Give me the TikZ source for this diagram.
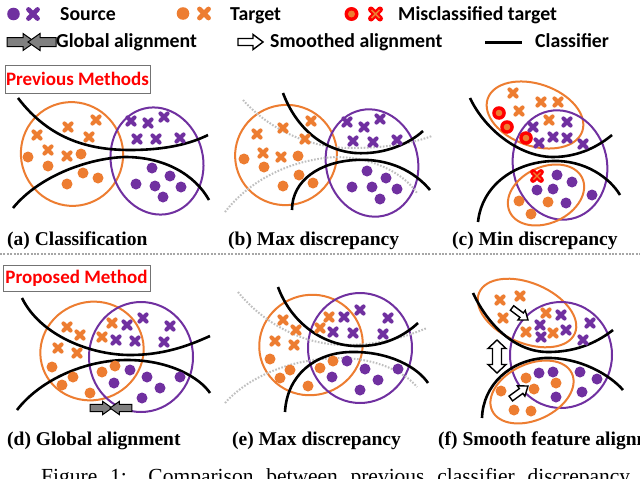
\documentclass[tikz,border=0pt]{standalone}
\usepackage{fontspec}
\setmainfont{Liberation Serif}
\newfontfamily\carl{Carlito}
\definecolor{orn}{HTML}{ED7D31}
\definecolor{pur}{HTML}{7030A0}
\definecolor{misred}{HTML}{FF0000}
\definecolor{arrgray}{HTML}{808080}
\newcommand\drawpts[2]{\foreach \x/\y in {#2} \pic at (\x,\y) {#1};}
\tikzset{
  ocross/.pic={\draw[orn, line width=4pt, line cap=round] (-3.6,-3.6)--(3.6,3.6) (-3.6,3.6)--(3.6,-3.6);},
  pcross/.pic={\draw[pur, line width=4pt, line cap=round] (-3.6,-3.6)--(3.6,3.6) (-3.6,3.6)--(3.6,-3.6);},
  odot/.pic={\fill[orn] (0,0) circle[radius=5.5];},
  pdot/.pic={\fill[pur] (0,0) circle[radius=5.5];},
  mdot/.pic={\fill[misred] (0,0) circle[radius=6.8]; \fill[orn] (0,0) circle[radius=3.3];},
  mcross/.pic={\draw[misred, line width=5.8pt, line cap=round] (-4,-4)--(4,4) (-4,4)--(4,-4);
                \draw[orn, line width=1.3pt] (-3.6,-3.6)--(3.6,3.6) (-3.6,3.6)--(3.6,-3.6);},
  garrow/.pic={\draw[black, fill=arrgray, line width=1pt, line join=miter] (0,0) -- (-12,-8.5) -- (-12,-4.5) -- (-28,-4.5) -- (-28,4.5) -- (-12,4.5) -- (-12,8.5) -- cycle;},
  warrow/.pic={\draw[black, fill=white, line width=1.4pt, line join=miter] (0,0) -- (-10,-7.5) -- (-10,-3.5) -- (-25,-3.5) -- (-25,3.5) -- (-10,3.5) -- (-10,7.5) -- cycle;},
  dwarrow/.pic={\draw[black, fill=white, line width=1.4pt, line join=miter] (0,-16.5) -- (9,-8) -- (4.5,-8) -- (4.5,8) -- (9,8) -- (0,16.5) -- (-9,8) -- (-4.5,8) -- (-4.5,-8) -- (-9,-8) -- cycle;},
  clf/.style={black, line width=2.6pt},
  gdot/.style={black!25, line width=2pt, dash pattern=on 1.6pt off 1.6pt},
  ore/.style={orn, line width=2pt},
  pue/.style={pur, line width=2pt},
  sublab/.style={anchor=base west, inner sep=0, font=\fontsize{19.5}{22}\selectfont\bfseries},
  leglab/.style={anchor=base west, inner sep=0, font=\carl\fontsize{19.8}{22}\selectfont\bfseries},
  redbox/.style={draw=black!55, line width=0.8pt, inner sep=0, text=misred, font=\carl\fontsize{19}{22}\selectfont\bfseries},
  sepline/.style={black!35, line width=2pt, dash pattern=on 2pt off 1.4pt},
}
\begin{document}
\begin{tikzpicture}[x=1pt,y=-1pt]
\useasboundingbox (0,0) rectangle (640,479);
\fill[white] (0,0) rectangle (640,479);

% ---------- legend ----------
\fill[pur] (13.5,14) circle[radius=6.3];
\draw[pur, line width=4.8pt, line cap=round] (28.5,9.5)--(37.5,18.5) (28.5,18.5)--(37.5,9.5);
\node[leglab] (lsrc) at (60,20) {Source};
\fill[orn] (183,13.5) circle[radius=6.3];
\draw[orn, line width=4.8pt, line cap=round] (199.5,9)--(208.5,18) (199.5,18)--(208.5,9);
\node[leglab] (ltgt) at (230,20) {Target};
\fill[misred] (351.5,14) circle[radius=7]; \fill[orn] (351.5,14) circle[radius=3.5];
\draw[misred, line width=6pt, line cap=round] (371,9.5)--(380,18.5) (371,18.5)--(380,9.5);
\draw[orn, line width=1.5pt] (371.5,10)--(379.5,18) (371.5,18)--(379.5,10);
\node[leglab] (lmis) at (398,20) {Misclassified target};
\pic at (35,42) {garrow};
\pic[rotate=180] at (28,42) {garrow};
\node[leglab] (lglob) at (56,47) {Global alignment};
\pic at (263,42) {warrow};
\node[leglab] (lsmo) at (270,47) {Smoothed alignment};
\coordinate (cl1) at (485,42); \coordinate (cl2) at (522,42);
\draw[black, line width=3pt] (cl1) -- (cl2);
\node[leglab] (lcls) at (535,47) {Classifier};

% ---------- row labels ----------
\node[redbox, minimum width=145, minimum height=28] (prev) at (77.5,79) {Previous Methods};
\node[redbox, minimum width=147, minimum height=26] (prop) at (76.5,278) {Proposed Method};
\coordinate (s1) at (0,254); \coordinate (s2) at (640,254);
\draw[sepline] (s1) -- (s2);

% ---------- (a) ----------
\draw[ore, rotate around={20:(72,154)}] (72,154) ellipse [x radius=51, y radius=52];
\draw[pue, rotate around={14:(157,161)}] (157,161) ellipse [x radius=46, y radius=54];
\draw[clf] (18,98) .. controls (50,140) and (90,150) .. (130,150) .. controls (165,150) and (190,144) .. (208,135);
\draw[clf] (13,208) .. controls (40,175) and (90,158) .. (125,157) .. controls (165,157) and (195,175) .. (209,200);
\drawpts{ocross}{37/135,68/127,96/120,89/137,48/150,67/156}
\drawpts{odot}{28/157,48/166,81/154,83/173,67/184,98/178}
\drawpts{pcross}{131/121,148/123,164/117,137/139,156/139,180/138}
\drawpts{pdot}{152/168,170/176,136/184,155/186,181/187,163/197}
\node[sublab] (capa) at (7,245) {(a) Classification};

% ---------- (b) ----------
\draw[ore, rotate around={20:(286,155)}] (286,155) ellipse [x radius=51, y radius=50];
\draw[pue, rotate around={12:(372,163)}] (372,163) ellipse [x radius=46, y radius=54];
\draw[gdot] (243,100) .. controls (270,130) and (310,148) .. (350,148) .. controls (385,148) and (410,144) .. (432,136);
\draw[gdot] (225,212) .. controls (250,180) and (290,160) .. (335,157) .. controls (375,157) and (405,175) .. (417,193);
\draw[clf] (283,93) .. controls (295,125) and (320,150) .. (355,153) .. controls (385,155) and (410,143) .. (423,131);
\draw[clf] (292,210) .. controls (292,180) and (320,162) .. (355,160) .. controls (390,158) and (415,172) .. (430,190);
\drawpts{ocross}{257/134,283/128,311/121,305/139,263/153,281/157}
\drawpts{odot}{244/159,264/167,298/156,299/175,283/186,313/183}
\drawpts{pcross}{347/122,364/127,380/119,353/141,373/142,397/140}
\drawpts{pdot}{367/171,386/178,352/187,372/187,397/189,380/199}
\node[sublab] (capb) at (228,245) {(b) Max discrepancy};

% ---------- (c) ----------
\draw[ore, rotate around={-19:(535,115)}] (535,115) ellipse [x radius=50, y radius=31];
\draw[pue, rotate around={12:(560,165)}] (560,165) ellipse [x radius=47, y radius=55];
\draw[ore, rotate around={25:(546,195)}] (546,195) ellipse [x radius=40, y radius=28];
\draw[clf] (470,98) .. controls (485,130) and (520,157) .. (553,157) .. controls (580,157) and (600,145) .. (612,135);
\draw[clf] (478,222) .. controls (482,185) and (515,162) .. (553,161) .. controls (585,160) and (610,178) .. (620,195);
\drawpts{mdot}{499/113,507/127,526/138}
\drawpts{ocross}{513/93,541/102,558/102,519/111,549/120}
\drawpts{pcross}{533/127,567/122,553/137,567/138,539/143,583/144}
\drawpts{mcross}{537/176}
\drawpts{pdot}{557/175,572/182,537/190,553/189,566/203,592/195}
\drawpts{odot}{519/201,548/202,531/214}
\node[sublab] (capc) at (452,245) {(c) Min discrepancy};

% ---------- (d) ----------
\draw[ore, rotate around={20:(92,351)}] (92,351) ellipse [x radius=52, y radius=49];
\draw[pue] (141,357) ellipse [x radius=52, y radius=55];
\draw[clf] (22,298) .. controls (40,335) and (90,355) .. (130,355) .. controls (165,355) and (190,345) .. (210,336);
\draw[clf] (17,410) .. controls (40,380) and (85,360) .. (127,360) .. controls (170,360) and (200,378) .. (210,393);
\drawpts{ocross}{67/327,80/335,58/348,77/353,112/323,102/337}
\drawpts{pcross}{143/318,127/325,170/326,116/340,135/341,164/342}
\drawpts{odot}{52/367,73/377,62/385,90/393,102/372,115/366}
\drawpts{pdot}{130/370,147/377,114/383,180/377,160/388,142/398}
\pic[scale=0.78] at (112,408) {garrow};
\pic[scale=0.78, rotate=180] at (110,408) {garrow};
\node[sublab] (capd) at (7,445) {(d) Global alignment};

% ---------- (e) ----------
\draw[ore, rotate around={20:(311,345)}] (311,345) ellipse [x radius=52, y radius=50];
\draw[pue] (360,348) ellipse [x radius=52, y radius=55];
\draw[gdot] (238,292) .. controls (265,325) and (305,345) .. (345,345) .. controls (380,345) and (405,337) .. (427,328);
\draw[gdot] (225,403) .. controls (250,375) and (295,358) .. (340,358) .. controls (375,358) and (405,372) .. (417,387);
\draw[clf] (278,287) .. controls (290,320) and (320,345) .. (355,346) .. controls (385,347) and (405,335) .. (418,323);
\draw[clf] (285,412) .. controls (287,375) and (315,353) .. (350,352) .. controls (390,351) and (418,368) .. (428,383);
\drawpts{ocross}{283/320,296/330,275/341,294/345,329/317,320/328}
\drawpts{pcross}{360/310,344/317,388/318,333/332,353/333,383/334}
\drawpts{odot}{270/359,290/370,280/378,308/386,320/368,333/361}
\drawpts{pdot}{347/361,365/369,332/377,398/369,378/380,360/390}
\node[sublab] (cape) at (232,445) {(e) Max discrepancy};

% ---------- (f) ----------
\draw[ore, rotate around={-23:(527,313)}] (527,313) ellipse [x radius=52, y radius=30];
\draw[pue] (561,355) ellipse [x radius=51, y radius=53];
\draw[ore, rotate around={25:(532,392)}] (532,392) ellipse [x radius=44, y radius=28];
\draw[clf] (473,293) .. controls (488,325) and (515,352) .. (548,352) .. controls (580,352) and (600,340) .. (613,330);
\draw[clf] (482,418) .. controls (483,385) and (510,360) .. (545,358) .. controls (580,357) and (610,375) .. (623,390);
\drawpts{ocross}{500/300,520/296,503/318,546/313,526/332,553/333}
\drawpts{pcross}{561/315,590/323,540/325,566/330,541/337,583/340}
\drawpts{odot}{526/378,556/383,534/389,501/391,514/410,531/411}
\drawpts{pdot}{539/373,553/372,580/372,597/379,556/397,582/392}
\pic[scale=0.8, rotate=-37] at (528,320) {warrow};
\pic[scale=0.85, rotate=36] at (528,386) {warrow};
\pic at (497,356.5) {dwarrow};
\node[sublab] (capf) at (438,445) {(f) Smooth feature alignment};

% ---------- caption ----------
\node[anchor=base west, inner sep=0, font=\fontsize{21.5}{24}\selectfont] (fig) at (41,483)
  {\makebox[589pt][s]{Figure 1: Comparison between previous classifier discrepancy}};
\end{tikzpicture}
\end{document}
